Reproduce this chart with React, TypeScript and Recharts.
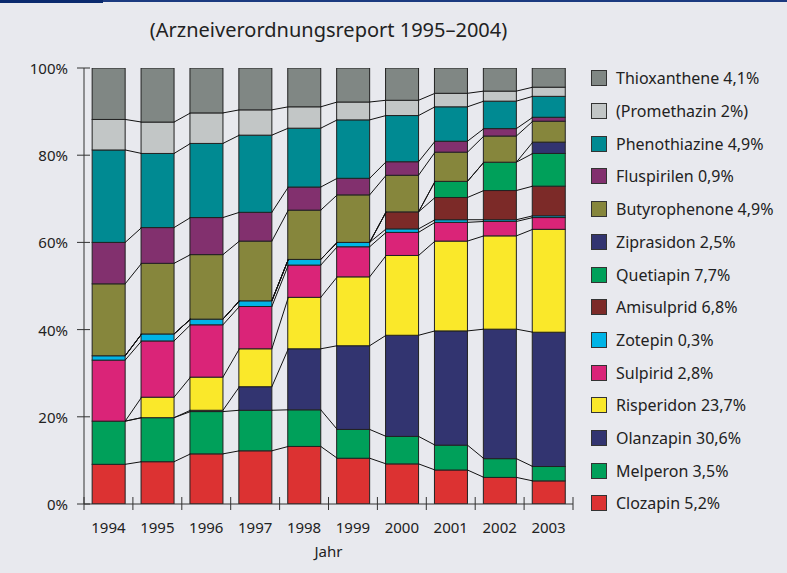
import React from 'react';
import { BarChart, Bar, XAxis, YAxis } from 'recharts';

const years = ['1994', '1995', '1996', '1997', '1998', '1999', '2000', '2001', '2002', '2003'];

// shares per year in %, stacked bottom to top
const clozapin = [9.1, 9.7, 11.5, 12.2, 13.2, 10.5, 9.2, 7.8, 6.1, 5.3];
const melperon = [9.9, 10.1, 9.7, 9.3, 8.4, 6.6, 6.3, 5.7, 4.3, 3.3];
const olanzapin = [0, 0, 0.3, 5.4, 14.0, 19.2, 23.2, 26.2, 29.7, 30.8];
const risperidon = [0, 4.7, 7.6, 8.7, 11.8, 15.8, 18.3, 20.6, 21.4, 23.6];
const sulpirid = [14.0, 12.9, 12.0, 9.7, 7.4, 6.9, 5.3, 4.3, 3.3, 2.7];
const zotepin = [1.0, 1.6, 1.3, 1.3, 1.3, 1.0, 0.8, 0.6, 0.4, 0.4];
const amisulprid = [0, 0, 0, 0, 0, 0, 3.9, 5.1, 6.7, 6.8];
const quetiapin = [0, 0, 0, 0, 0, 0, 0, 3.7, 6.5, 7.5];
const ziprasidon = [0, 0, 0, 0, 0, 0, 0, 0, 0, 2.6];
const butyrophenone = [16.5, 16.2, 14.8, 13.7, 11.3, 10.9, 8.4, 6.7, 6.0, 4.8];
const fluspirilen = [9.5, 8.2, 8.5, 6.6, 5.3, 3.8, 3.1, 2.5, 1.7, 0.9];
const phenothiazine = [21.2, 17.0, 17.0, 17.7, 13.5, 13.4, 10.6, 7.9, 6.3, 4.8];
const promethazin = [7.0, 7.2, 7.0, 5.8, 4.9, 4.1, 3.5, 3.1, 2.3, 2.1];
const thioxanthene = [11.8, 12.4, 10.3, 9.6, 8.9, 7.8, 7.4, 5.8, 5.3, 4.4];

const yTicks = [0, 20, 40, 60, 80, 100];

const series = [
  { key: 'clozapin', label: 'Clozapin 5,2%', color: '#dc3232', values: clozapin },
  { key: 'melperon', label: 'Melperon 3,5%', color: '#00a05a', values: melperon },
  { key: 'olanzapin', label: 'Olanzapin 30,6%', color: '#323470', values: olanzapin },
  { key: 'risperidon', label: 'Risperidon 23,7%', color: '#fae82a', values: risperidon },
  { key: 'sulpirid', label: 'Sulpirid 2,8%', color: '#da2478', values: sulpirid },
  { key: 'zotepin', label: 'Zotepin 0,3%', color: '#00b4e6', values: zotepin },
  { key: 'amisulprid', label: 'Amisulprid 6,8%', color: '#7c2a28', values: amisulprid },
  { key: 'quetiapin', label: 'Quetiapin 7,7%', color: '#00a05a', values: quetiapin },
  { key: 'ziprasidon', label: 'Ziprasidon 2,5%', color: '#323470', values: ziprasidon },
  { key: 'butyrophenone', label: 'Butyrophenone 4,9%', color: '#86863c', values: butyrophenone },
  { key: 'fluspirilen', label: 'Fluspirilen 0,9%', color: '#82306e', values: fluspirilen },
  { key: 'phenothiazine', label: 'Phenothiazine 4,9%', color: '#008a92', values: phenothiazine },
  { key: 'promethazin', label: '(Promethazin 2%)', color: '#c2c6c6', values: promethazin },
  { key: 'thioxanthene', label: 'Thioxanthene 4,1%', color: '#808784', values: thioxanthene },
];

const data = years.map((year, i) => {
  const row: Record<string, any> = { year };
  series.forEach((s) => {
    row[s.key] = s.values[i];
  });
  return row;
});

const totals = years.map((_, i) => series.reduce((a, s) => a + s.values[i], 0));

// cumulative tops of each series (bottom to top)
const cumulative = series.map((_, k) =>
  years.map((__, i) => series.slice(0, k + 1).reduce((a, s) => a + s.values[i], 0))
);

const FONT = '"Noto Sans", "Open Sans", sans-serif';
const BG = '#e8e9ee';

// top series draws the bar plus the connector lines between stacks
const TopShape = (props: any) => {
  const { x, y, width, height, fill, index } = props;
  const i = typeof index === 'number' ? index : years.indexOf(props.payload?.year);
  const out: React.ReactNode[] = [
    <rect key="r" x={x} y={y} width={width} height={height} fill={fill} stroke="#222" strokeWidth={1} />,
  ];
  if (i >= 0 && i < years.length - 1 && height > 0) {
    const pxPer = height / thioxanthene[i];
    const base = y + totals[i] * pxPer;
    const pxNext = pxPer * (totals[i] / totals[i + 1]);
    const x1 = x + width;
    const x2 = x + width * 1.5;
    for (let k = 0; k < series.length - 1; k++) {
      out.push(
        <line
          key={'c' + k}
          x1={x1}
          y1={base - cumulative[k][i] * pxPer}
          x2={x2}
          y2={base - cumulative[k][i + 1] * pxNext}
          stroke="#111"
          strokeWidth={1}
        />
      );
    }
  }
  return <g>{out}</g>;
};

const SegShape = (props: any) => {
  const { x, y, width, height, fill } = props;
  return <rect x={x} y={y} width={width} height={Math.max(0, height)} fill={fill} stroke="#222" strokeWidth={1} />;
};

const XTick = (props: any) => {
  const { x, y, payload, index } = props;
  const half = payload?.offset ?? 0;
  return (
    <g>
      <line x1={x - half} x2={x - half} y1={y - 7} y2={y + 6} stroke="#333" strokeWidth={1} />
      {index === years.length - 1 && (
        <line x1={x + half} x2={x + half} y1={y - 7} y2={y + 6} stroke="#333" strokeWidth={1} />
      )}
      <text x={x} y={y + 29} textAnchor="middle" fontSize={15} fill="#222" fontFamily={FONT}>
        {payload.value}
      </text>
    </g>
  );
};

const YTick = (props: any) => {
  const { x, y, payload } = props;
  return (
    <g>
      <line x1={x + 9} x2={x + 22} y1={y} y2={y} stroke="#333" strokeWidth={1} />
      <text x={x} y={y + 6} textAnchor="end" fontSize={15} fill="#222" fontFamily={FONT}>
        {payload.value}%
      </text>
    </g>
  );
};

const App: React.FC = () => {
  const legendItems = [...series].reverse();
  return (
    <div
      style={{
        position: 'fixed',
        left: 0,
        top: 0,
        width: 787,
        height: 573,
        background: BG,
        fontFamily: FONT,
        overflow: 'hidden',
      }}
    >
      <div style={{ position: 'absolute', left: 0, top: 0, width: 787, height: 2, background: '#1b3a80' }} />
      <div style={{ position: 'absolute', left: 0, top: 0, width: 103, height: 3, background: '#0a2a6e' }} />
      <div
        style={{
          position: 'absolute',
          left: 0,
          width: 657,
          top: 16,
          textAlign: 'center',
          fontSize: 20,
          color: '#222',
        }}
      >
        (Arzneiverordnungsreport 1995–2004)
      </div>
      <BarChart
        width={787}
        height={573}
        data={data}
        margin={{ top: 68, right: 214, bottom: 0, left: 0 }}
        barCategoryGap="16.67%"
        style={{ position: 'absolute', left: 0, top: 0 }}
      >
        <XAxis
          dataKey="year"
          height={69}
          tickSize={0}
          tickMargin={0}
          tickLine={false}
          axisLine={{ stroke: '#333' }}
          tick={<XTick />}
          interval={0}
          label={{ value: 'Jahr', position: 'insideBottom', offset: 16, fontSize: 15, fill: '#222', fontFamily: FONT }}
        />
        <YAxis
          width={84}
          domain={[0, 100]}
          ticks={yTicks}
          tickSize={8}
          tickMargin={8}
          tickLine={false}
          axisLine={{ stroke: '#333' }}
          tick={<YTick />}
          allowDataOverflow
        />
        {series.map((s, k) => (
          <Bar
            key={s.key}
            dataKey={s.key}
            stackId="a"
            fill={s.color}
            isAnimationActive={false}
            shape={k === series.length - 1 ? TopShape : SegShape}
          />
        ))}
      </BarChart>
      {legendItems.map((s, j) => (
        <div
          key={s.key}
          style={{
            position: 'absolute',
            left: 591,
            top: 78.3 + j * 32.7 - 11,
            height: 22,
            display: 'flex',
            alignItems: 'center',
            fontSize: 16,
            color: '#222',
            whiteSpace: 'nowrap',
          }}
        >
          <span
            style={{
              display: 'inline-block',
              width: 14,
              height: 14,
              background: s.color,
              border: '1px solid #333',
              marginRight: 9,
            }}
          />
          {s.label}
        </div>
      ))}
    </div>
  );
};

export default App;
